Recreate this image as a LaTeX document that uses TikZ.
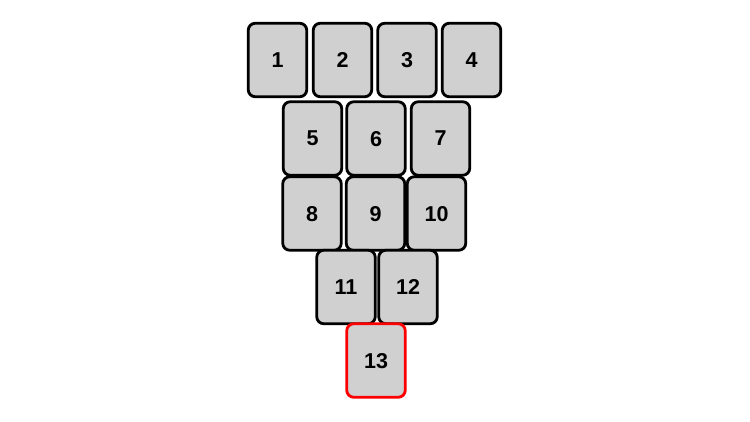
\documentclass[tikz,border=0pt]{standalone}
\usepackage{fontspec}
\setmainfont{Liberation Sans}
\begin{document}
\begin{tikzpicture}[x=1pt,y=-1pt,
  card/.style={draw=black, line width=2.8pt, fill=cardgray, rounded corners=7pt,
    minimum width=58.5pt, minimum height=73.5pt, inner sep=0pt, text depth=-4pt,
    font=\fontsize{21.5}{21.5}\selectfont\bfseries, text=black},
  hot/.style={card, draw=red}]
\definecolor{cardgray}{HTML}{D0D0D0}
\useasboundingbox[fill=white] (0,0) rectangle (750,422);
\node[card] (n1) at (277.5,60) {1};
\node[card] (n2) at (342.5,60) {2};
\node[card] (n3) at (407,60) {3};
\node[card] (n4) at (471.5,60) {4};
\node[card] (n5) at (312.5,138.5) {5};
\node[card] (n6) at (376,138.5) {6};
\node[card] (n7) at (440.5,138.5) {7};
\node[card] (n8) at (312,213.5) {8};
\node[card] (n9) at (375.5,213.5) {9};
\node[card] (n10) at (436.5,213.5) {10};
\node[card] (n11) at (346,287) {11};
\node[card] (n12) at (408,287) {12};
\node[hot] (n13) at (376,360.5) {13};
\end{tikzpicture}
\end{document}
